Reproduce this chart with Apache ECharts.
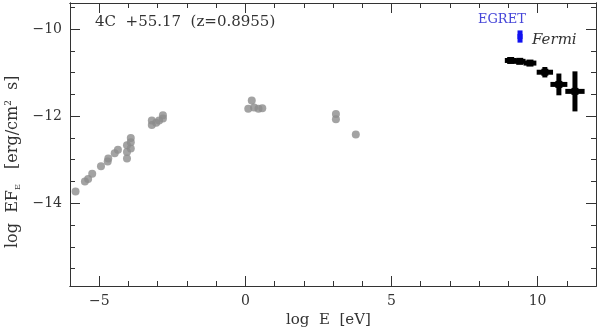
<!DOCTYPE html>
<html><head><meta charset="utf-8">
<script src="https://cdn.jsdelivr.net/npm/echarts@6/dist/echarts.min.js"></script>
<style>html,body{margin:0;padding:0;background:#fff}#c{width:600px;height:332px}</style>
</head><body><div id="c"></div>
<script>
// ---- data ----
const grayX = [-5.81, -5.49, -5.38, -5.24, -4.94, -4.69, -4.71, -4.47, -4.36, -4.05, -4.05, -4.05, -3.92, -3.92, -3.92, -3.2, -3.2, -3.05, -2.95, -2.82, -2.82, 0.1, 0.22, 0.3, 0.45, 0.58, 3.1, 3.1, 3.78];
const grayY = [-13.73, -13.5, -13.44, -13.32, -13.15, -12.97, -13.04, -12.85, -12.77, -12.67, -12.82, -12.97, -12.5, -12.6, -12.74, -12.2, -12.1, -12.15, -12.1, -11.98, -12.05, -11.83, -11.64, -11.8, -11.83, -11.82, -11.95, -12.07, -12.42];
const fermiX = [9.08, 9.39, 9.74, 10.25, 10.73, 11.28];
const fermiY = [-10.72, -10.74, -10.78, -10.99, -11.27, -11.43];
const fermiXerr = [0.2, 0.2, 0.22, 0.28, 0.29, 0.33];
const fermiYerr = [0.03, 0.03, 0.03, 0.12, 0.25, 0.46];
const egretX = [9.4];
const egretY = [-10.17];
const egretXerr = [0];
const egretYerr = [0.14];
const xMajor = [-5, 0, 5, 10];
const xMinor = [-6, -4, -3, -2, -1, 1, 2, 3, 4, 6, 7, 8, 9, 11, 12];
const yMajor = [-14, -12, -10];
const yMinor = [-15.5, -15, -14.5, -13.5, -13, -12.5, -11.5, -11, -10.5, -9.5];

const FONT = 'DejaVu Serif';
const TXT = '#333';
const fmt = v => v < 0 ? '\u2212' + Math.abs(v) : String(v);

function axisSet(kind, pos, ticks, len, labels) {
  const a = {
    type: 'value', position: pos, gridIndex: 0,
    axisLine: { show: true, onZero: false, lineStyle: { color: '#333', width: 1 } },
    axisTick: { show: true, inside: true, length: len, customValues: ticks, lineStyle: { color: '#333', width: 1 } },
    axisLabel: labels ? { show: true, customValues: labels, formatter: fmt, color: TXT, fontFamily: FONT, fontSize: 14, margin: 8 } : { show: false },
    splitLine: { show: false }
  };
  if (kind === 'x') { a.min = -6; a.max = 12; } else { a.min = -15.9; a.max = -9.4; }
  return a;
}

function errItem(color, box) {
  return function (params, api) {
    const x = api.value(0), y = api.value(1), xe = api.value(2), ye = api.value(3);
    const c = api.coord([x, y]);
    const l = api.coord([x - xe, y]), r = api.coord([x + xe, y]);
    const t = api.coord([x, y + ye]), b = api.coord([x, y - ye]);
    const ch = [
      { type: 'rect', shape: { x: c[0] - box / 2, y: c[1] - box / 2, width: box, height: box }, style: { fill: color } }
    ];
    if (xe > 0) ch.push({ type: 'line', shape: { x1: l[0], y1: l[1], x2: r[0], y2: r[1] }, style: { stroke: color, lineWidth: 5 } });
    if (ye > 0) ch.push({ type: 'line', shape: { x1: t[0], y1: t[1], x2: b[0], y2: b[1] }, style: { stroke: color, lineWidth: 5 } });
    return { type: 'group', children: ch };
  };
}

const chart = echarts.init(document.getElementById('c'), null, { renderer: 'canvas' });
chart.setOption({
  animation: false,
  backgroundColor: '#fff',
  grid: { left: 70, right: 4, top: 3, bottom: 46 },
  xAxis: [
    axisSet('x', 'bottom', xMajor, 10, xMajor),
    axisSet('x', 'bottom', xMinor, 5, null),
    axisSet('x', 'top', xMajor, 10, null),
    axisSet('x', 'top', xMinor, 5, null)
  ],
  yAxis: [
    axisSet('y', 'left', yMajor, 10, yMajor),
    axisSet('y', 'left', yMinor, 5, null),
    axisSet('y', 'right', yMajor, 10, null),
    axisSet('y', 'right', yMinor, 5, null)
  ],
  series: [
    { type: 'scatter', xAxisIndex: 0, yAxisIndex: 0, symbol: 'circle', symbolSize: 8,
      itemStyle: { color: '#8c8c8c' }, data: grayX.map((x, i) => [x, grayY[i]]) },
    { type: 'custom', xAxisIndex: 0, yAxisIndex: 0, renderItem: errItem('#000', 7),
      data: fermiX.map((x, i) => [x, fermiY[i], fermiXerr[i], fermiYerr[i]]) },
    { type: 'custom', xAxisIndex: 0, yAxisIndex: 0, renderItem: errItem('#1010f0', 5),
      data: egretX.map((x, i) => [x, egretY[i], egretXerr[i], egretYerr[i]]) }
  ],
  graphic: [
    { type: 'text', left: 95, top: 15, style: { text: '4C  +55.17  (z=0.8955)', font: '15px "DejaVu Serif"', fill: TXT } },
    { type: 'text', left: 478, top: 13, style: { text: 'EGRET', font: '13px "DejaVu Serif"', fill: '#4646d8' } },
    { type: 'text', left: 532, top: 33, style: { text: 'Fermi', font: 'italic 15px "DejaVu Serif"', fill: TXT } },
    { type: 'text', left: 286, top: 313, style: { text: 'log  E  [eV]', font: '15px "DejaVu Serif"', fill: TXT } },
    { type: 'text', x: 4, y: 248, rotation: Math.PI / 2,
      style: { text: '{n|log  EF}{s|E}{n|   [erg/cm}{p|2}{n|  s]}', fill: TXT,
        rich: { n: { font: '16px "DejaVu Serif"', fill: TXT }, s: { font: '8px "DejaVu Serif"', fill: TXT, padding: [10, 0, 0, 0] }, p: { font: '9px "DejaVu Serif"', fill: TXT, padding: [0, 0, 8, 0] } } } }
  ]
});
</script></body></html>
